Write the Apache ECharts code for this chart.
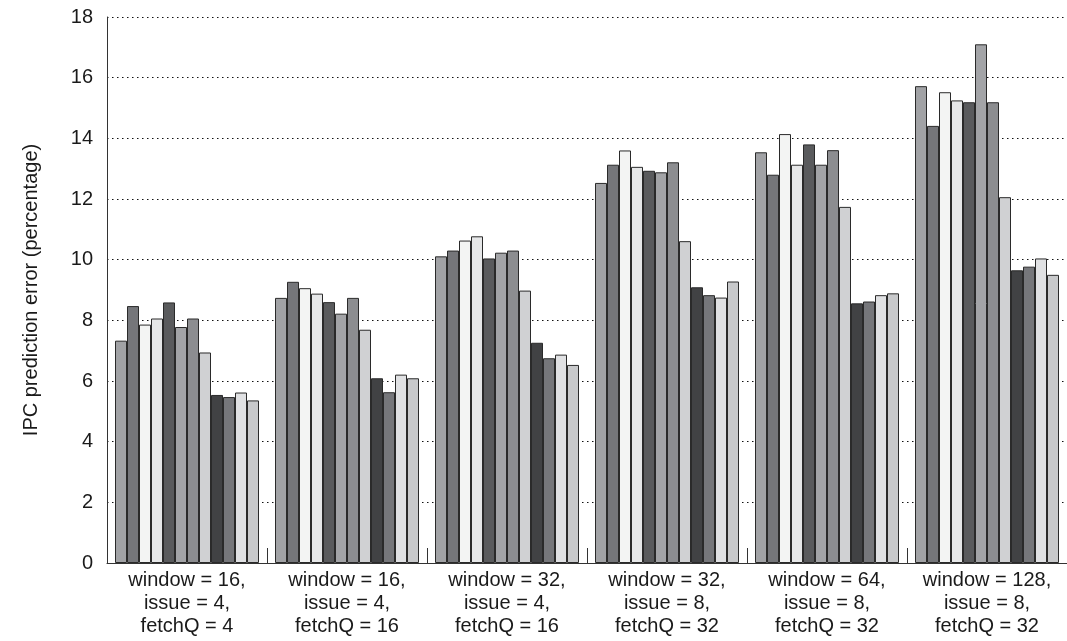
<!DOCTYPE html>
<html>
<head>
<meta charset="utf-8">
<script src="https://cdn.jsdelivr.net/npm/echarts@6/dist/echarts.min.js"></script>
<style>
html,body{margin:0;padding:0;background:#fff;}
#chart{width:1067px;height:641px;}
</style>
</head>
<body>
<div id="chart"></div>
<script>
const categories = [
  'window = 16,\nissue = 4,\nfetchQ = 4',
  'window = 16,\nissue = 4,\nfetchQ = 16',
  'window = 32,\nissue = 4,\nfetchQ = 16',
  'window = 32,\nissue = 8,\nfetchQ = 32',
  'window = 64,\nissue = 8,\nfetchQ = 32',
  'window = 128,\nissue = 8,\nfetchQ = 32'
];
const yTicks = [0, 2, 4, 6, 8, 10, 12, 14, 16, 18];

const s1  = [7.33, 8.74, 10.11, 12.53, 13.54, 15.72];
const s2  = [8.47, 9.27, 10.30, 13.13, 12.80, 14.41];
const s3  = [7.86, 9.06, 10.63, 13.60, 14.14, 15.52];
const s4  = [8.06, 8.88, 10.77, 13.06, 13.13, 15.25];
const s5  = [8.59, 8.60, 10.04, 12.93, 13.80, 15.19];
const s6  = [7.78, 8.22, 10.23, 12.88, 13.13, 17.10];
const s7  = [8.06, 8.74, 10.30, 13.21, 13.61, 15.19];
const s8  = [6.94, 7.69, 8.98, 10.61, 11.74, 12.06];
const s9  = [5.54, 6.09, 7.26, 9.09, 8.56, 9.65];
const s10 = [5.47, 5.63, 6.75, 8.83, 8.62, 9.77];
const s11 = [5.62, 6.21, 6.87, 8.75, 8.83, 10.04];
const s12 = [5.36, 6.09, 6.53, 9.28, 8.89, 9.50];

const seriesValues = [s1, s2, s3, s4, s5, s6, s7, s8, s9, s10, s11, s12];
const seriesColors = ['#a1a2a5', '#75767a', '#f3f4f3', '#e6e7e8', '#5a5b5d', '#a3a4a7',
                      '#8c8d90', '#d0d1d3', '#414244', '#76777b', '#e0e1e3', '#c8c9cb'];

const font = 'Liberation Sans, Arial, Helvetica, sans-serif';
const chart = echarts.init(document.getElementById('chart'), null, {renderer: 'canvas'});
chart.setOption({
  animation: false,
  backgroundColor: '#ffffff',
  grid: {left: 107, right: -4, top: 17, bottom: 78, containLabel: false},
  xAxis: {
    type: 'category',
    data: categories,
    axisLine: {show: true, lineStyle: {color: '#333', width: 1}},
    axisTick: {show: true, inside: true, length: 15, lineStyle: {color: '#333'}},
    axisLabel: {color: '#1a1a1a', fontSize: 20, fontFamily: font, lineHeight: 23, margin: 6, interval: 0},
    splitLine: {show: false}
  },
  yAxis: {
    type: 'value',
    min: yTicks[0],
    max: yTicks[yTicks.length - 1],
    interval: 2,
    name: 'IPC prediction error (percentage)',
    nameLocation: 'middle',
    nameGap: 66,
    nameTextStyle: {color: '#1a1a1a', fontSize: 20, fontFamily: font},
    axisLine: {show: true, lineStyle: {color: '#333', width: 1}},
    axisTick: {show: false},
    axisLabel: {color: '#1a1a1a', fontSize: 20, fontFamily: font, margin: 14},
    splitLine: {show: true, lineStyle: {color: '#111', type: [1.5, 3.5], width: 1}}
  },
  series: seriesValues.map((vals, i) => ({
    name: 'Series ' + (i + 1),
    type: 'bar',
    data: vals,
    barGap: '0%',
    barCategoryGap: '10%',
    itemStyle: {color: seriesColors[i], borderColor: '#2a2a2a', borderWidth: 1}
  }))
});
</script>
</body>
</html>
